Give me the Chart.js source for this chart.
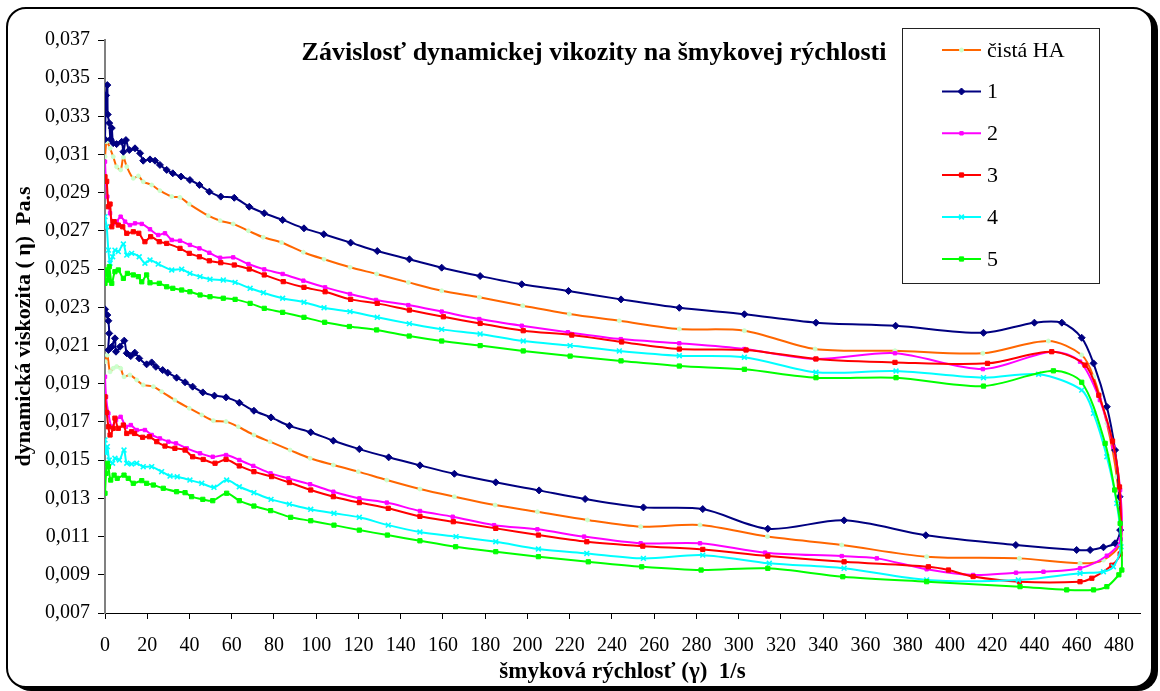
<!DOCTYPE html>
<html>
<head>
<meta charset="utf-8">
<script src="https://cdn.jsdelivr.net/npm/chart.js@4"></script>
<style>
  html, body { margin: 0; padding: 0; background: #fff; }
  #wrap { position: relative; width: 1160px; height: 691px; overflow: hidden; }
  #frame {
    position: absolute; left: 6px; top: 7px; width: 1147px; height: 681px;
    box-sizing: border-box; border: 2px solid #000; border-radius: 20px;
    box-shadow: 5px 3px 0 #000; background: #fff;
  }
  #c { position: absolute; left: 0; top: 0; }
</style>
</head>
<body>
<div id="wrap">
  <div id="frame"></div>
  <canvas id="c" width="1160" height="691"></canvas>
</div>
<script>
// Shear rate (1/s) and dynamic viscosity (Pa.s); each loop runs up to ~480 1/s and back to 0.
const haShear = [0, 0.8, 2.4, 3.9, 5.5, 7.4, 8.7, 10.3, 13.4, 15.8, 18.1, 22.1, 26, 31.6, 35.5, 39.9, 48.9, 54.5, 60.7, 67.9, 74.9, 83.6, 93.9, 103.7, 116, 128.6, 143.6, 159.4, 177.2, 197.8, 219.8, 243.5, 271.9, 302.7, 336.2, 374, 415.6, 446.6, 462.4,
  468, 474.3, 479, 480.9,
  472.7, 461.6, 432.9, 389, 348.8, 313.6, 281.7, 253.6, 228.4, 204.7, 184.7, 165.4, 149.1, 133.4, 119.9, 108.1, 97.1, 87.6, 78.1, 70.5, 63.1, 57.3, 51.3, 45.8, 39.9, 33.1, 26.8, 22.9, 18.1, 15, 11.8, 9, 7.4, 5.5, 3.9, 2.4, 1.1, 0];
const haEta = [0.03089, 0.03168, 0.03133, 0.03089, 0.03037, 0.0302, 0.03086, 0.03037, 0.02976, 0.02988, 0.02958, 0.02941, 0.02911, 0.0288, 0.02876, 0.02841, 0.0278, 0.02754, 0.02737, 0.02701, 0.02667, 0.0264, 0.02589, 0.02552, 0.0251, 0.02475, 0.02431, 0.02387, 0.02353, 0.02309, 0.02265, 0.0223, 0.02187, 0.02178, 0.02082, 0.02073, 0.0206, 0.02124, 0.02051,
  0.01937, 0.01693, 0.01413, 0.01073,
  0.00977, 0.0096, 0.00986, 0.00995, 0.01056, 0.011, 0.01161, 0.01152, 0.01187, 0.0123, 0.01265, 0.01309, 0.01349, 0.01396, 0.0144, 0.01475, 0.0151, 0.01553, 0.01597, 0.01632, 0.01675, 0.01702, 0.01707, 0.01737, 0.01772, 0.01815, 0.01859, 0.01885, 0.01894, 0.0192, 0.01946, 0.01937, 0.01981, 0.0199, 0.01981, 0.01963, 0.0205, 0.02016];

const s1Shear = [0, 0.5, 1.1, 1.3, 2.0, 2.6, 3.2, 3.9, 5.5, 7.9, 8.7, 9.9, 11.5, 14.2, 16.6, 18.1, 21.3, 23.7, 26, 29.2, 32.1, 36, 40.2, 44.7, 49.4, 54.8, 61.2, 68.3, 75.4, 84.1, 94.2, 103.6, 116.3, 128.9, 144.1, 159.4, 177.6, 197.3, 219.4, 244.3, 271.9, 302.7, 336.6, 374.3, 415.9, 440, 453, 462.4,
  468, 474.3, 478.2, 480.3, 480.6,
  478.2, 472.7, 466.4, 460, 431.2, 388.6, 349.9, 313.8, 283, 254.9, 227.3, 205.5, 185, 165.4, 149.1, 134.3, 120.4, 108.1, 97.4, 87.3, 78.6, 70.5, 63.6, 57.3, 51.8, 46.3, 41.5, 37.9, 33.9, 29.7, 27.3, 24.1, 22.1, 19.7, 16.2, 14.1, 12.2, 10.3, 9.1, 7.1, 5.2, 4.7, 3.2, 1.6, 2.0, 1.6, 1.1, 0];
const s1Eta = [0.0318, 0.0341, 0.03464, 0.0331, 0.03265, 0.0318, 0.03239, 0.0316, 0.03155, 0.03167, 0.03115, 0.03176, 0.03124, 0.03133, 0.03107, 0.03068, 0.03075, 0.03068, 0.03046, 0.0302, 0.03002, 0.02985, 0.02967, 0.02941, 0.02906, 0.0288, 0.02874, 0.02827, 0.02793, 0.02758, 0.02714, 0.02683, 0.02639, 0.02595, 0.02552, 0.02508, 0.02464, 0.02421, 0.02386, 0.02342, 0.02298, 0.02264, 0.0222, 0.02204, 0.02167, 0.0222, 0.0222, 0.02141,
  0.02007, 0.0178, 0.01553, 0.01309, 0.01134,
  0.01065, 0.01044, 0.0103, 0.0103, 0.01056, 0.01107, 0.01185, 0.01141, 0.01244, 0.01253, 0.01297, 0.01342, 0.01384, 0.01429, 0.01473, 0.01515, 0.01558, 0.01602, 0.01646, 0.0168, 0.01724, 0.01759, 0.01801, 0.01829, 0.01838, 0.01855, 0.01885, 0.01908, 0.01932, 0.01958, 0.01972, 0.01989, 0.02012, 0.02002, 0.02033, 0.02063, 0.02045, 0.0206, 0.02126, 0.02094, 0.02068, 0.02138, 0.02094, 0.02077, 0.02164, 0.0223, 0.0226, 0.0229];

const s2Shear = [0, 0.5, 1.1, 2.4, 3.9, 5.5, 7.4, 9.5, 11.8, 14.2, 17.4, 21.3, 25.2, 28.4, 31.6, 35.5, 40.2, 44.7, 49.4, 54.5, 60.7, 67.9, 75.4, 84.1, 93.9, 104.2, 116, 128.3, 143.6, 159.4, 177.2, 197.3, 219.1, 244.2, 271.9, 302.7, 336.2, 374, 415.6, 448.2, 461.6,
  471, 477.4, 480.6, 480.9,
  474.3, 461.6, 444.3, 431.3, 411, 389, 365.4, 348.8, 312.5, 281.7, 253.6, 226.8, 204.7, 184.2, 164.6, 149.1, 133.4, 120.4, 108.1, 97.1, 86.8, 78.4, 70.2, 63.6, 57.3, 51, 45, 38.7, 33.6, 30, 26, 22.1, 18.9, 15, 12.2, 9.9, 7.4, 5.2, 3.2, 1.6, 0.5, 0];
const s2Eta = [0.03063, 0.0295, 0.0288, 0.02793, 0.0274, 0.02749, 0.02775, 0.02749, 0.02731, 0.0274, 0.02737, 0.02709, 0.02679, 0.02688, 0.02653, 0.02649, 0.02627, 0.02609, 0.02586, 0.0256, 0.02562, 0.02527, 0.02499, 0.02475, 0.0244, 0.02405, 0.0237, 0.02339, 0.02312, 0.02278, 0.02239, 0.02204, 0.0217, 0.02134, 0.02112, 0.02082, 0.0203, 0.0206, 0.01977, 0.02068, 0.02016,
  0.01815, 0.0157, 0.01344, 0.01086,
  0.0100, 0.00934, 0.00916, 0.00911, 0.00899, 0.00929, 0.00986, 0.00998, 0.01016, 0.01065, 0.01065, 0.011, 0.01138, 0.0116, 0.01204, 0.01234, 0.01278, 0.013, 0.01335, 0.01374, 0.01405, 0.01431, 0.0147, 0.01501, 0.01527, 0.01518, 0.01536, 0.01562, 0.01588, 0.01597, 0.01614, 0.01632, 0.01658, 0.01658, 0.01684, 0.01675, 0.01727, 0.0171, 0.01675, 0.01745, 0.01832, 0.01937];

const s3Shear = [0, 0.8, 1.6, 2.4, 3.2, 4.3, 6.3, 8.4, 10.3, 13.4, 16, 18.9, 21.6, 25.7, 29.2, 35.5, 39.9, 44.7, 49.4, 54.8, 61.2, 68.3, 75.4, 84.4, 94.2, 104.2, 116.3, 128.9, 144.1, 160.2, 177.6, 198, 221, 244.6, 271.9, 303.5, 336.6, 374, 417.8, 448.2, 464,
  470.5, 477, 480.3, 480.6,
  476.7, 467.2, 461.6, 432.9, 411, 399.3, 389.8, 349.9, 313.8, 283, 254.6, 228.1, 205.2, 185, 164.9, 149.1, 134.1, 120.4, 108.1, 97.4, 87.3, 78.9, 70.5, 63.6, 57.3, 52.1, 46.5, 41.5, 37.9, 33.1, 28.4, 24.5, 21, 17.8, 14, 12.6, 10.3, 8.7, 6.3, 4.7, 3.9, 2.4, 1.6, 0.8, 0];
const s3Eta = [0.02984, 0.0296, 0.02827, 0.02841, 0.02722, 0.02749, 0.02731, 0.02722, 0.02688, 0.02696, 0.02688, 0.02644, 0.0267, 0.02644, 0.02635, 0.02609, 0.02583, 0.02565, 0.02544, 0.02534, 0.02522, 0.02501, 0.0247, 0.02435, 0.02405, 0.02382, 0.02342, 0.02321, 0.02286, 0.02251, 0.02216, 0.02178, 0.02155, 0.02119, 0.02082, 0.02077, 0.0203, 0.02012, 0.02007, 0.02068, 0.01998,
  0.0184, 0.016, 0.0136, 0.01009,
  0.0095, 0.00882, 0.00864, 0.00864, 0.00891, 0.00925, 0.00942, 0.00968, 0.00998, 0.01033, 0.0105, 0.01073, 0.01108, 0.01143, 0.01178, 0.01206, 0.01248, 0.01278, 0.01309, 0.01344, 0.01383, 0.01414, 0.0144, 0.0147, 0.01504, 0.01484, 0.01504, 0.01518, 0.01553, 0.01562, 0.01574, 0.01597, 0.01623, 0.0162, 0.0164, 0.01649, 0.0164, 0.01684, 0.01667, 0.0172, 0.01667, 0.01632, 0.01675, 0.0175, 0.01832];

const s4Shear = [0, 0.8, 1.6, 2.4, 3.6, 4.7, 6.3, 8.7, 10.3, 12.6, 16.2, 18.9, 21.3, 25.2, 31.6, 36.3, 40.2, 45, 49.7, 56, 61.6, 68.7, 75, 84.1, 94.2, 103.7, 116, 128.9, 144.1, 159.4, 177.6, 198, 220.2, 243.5, 271.9, 302.7, 336.6, 374.5, 415.9, 442, 462.4,
  468, 474.3, 479, 481,
  477.4, 472.7, 461.6, 432.4, 389, 349.9, 314.5, 283, 254.9, 228.1, 205.2, 185, 166.2, 149.1, 134.1, 120.4, 108.4, 97.4, 87.3, 78.6, 70.5, 63.6, 57.6, 51.6, 45.8, 40.2, 34.2, 30.8, 26.8, 22.1, 18.1, 15, 12.6, 10.3, 9, 6.8, 4.7, 3.6, 2, 1.1, 0.5, 0];
const s4Eta = [0.02775, 0.02722, 0.026, 0.02531, 0.02565, 0.026, 0.02592, 0.02632, 0.02574, 0.02583, 0.02565, 0.02531, 0.02548, 0.02527, 0.02496, 0.025, 0.02478, 0.02461, 0.02447, 0.02443, 0.02431, 0.024, 0.02377, 0.02348, 0.02327, 0.02298, 0.02278, 0.02248, 0.02215, 0.02185, 0.02161, 0.02124, 0.021, 0.02072, 0.02047, 0.02039, 0.0196, 0.01967, 0.01932, 0.0195, 0.01867,
  0.01745, 0.01518, 0.01274, 0.01047,
  0.00942, 0.00916, 0.00908, 0.00873, 0.00873, 0.00934, 0.0096, 0.01003, 0.00986, 0.01012, 0.01035, 0.01073, 0.011, 0.01124, 0.0116, 0.01201, 0.01222, 0.01243, 0.0127, 0.01295, 0.0133, 0.01361, 0.01396, 0.01358, 0.01379, 0.01396, 0.01413, 0.01417, 0.0144, 0.01466, 0.01466, 0.01484, 0.0148, 0.01484, 0.01553, 0.01501, 0.0151, 0.01484, 0.01501, 0.01571, 0.01536, 0.01606];

const s5Shear = [0, 0.8, 1.6, 2, 3.2, 4.7, 6.3, 8.7, 10.6, 13.4, 15.8, 17.4, 19.7, 21.3, 25.7, 29.2, 32.1, 36.3, 40.2, 45, 49.7, 56, 61.6, 68.7, 75.4, 84.1, 94.2, 104, 115.7, 128.6, 144, 159.4, 177.6, 198, 220.2, 244.3, 271.9, 302.7, 336.6, 374.5, 415.9, 449, 462.4,
  473.5, 478, 480.6, 481.4,
  480, 474.3, 468, 455.3, 433.2, 389, 349.3, 313.8, 282.2, 254.1, 228.8, 205.2, 185, 166, 149.1, 133.7, 120.4, 108.4, 97.4, 87.9, 78.4, 70.5, 63.6, 57.6, 51, 46.3, 41, 37.9, 33.9, 27.6, 22.9, 19.7, 17.4, 13.4, 11, 9, 5.8, 4.3, 2.7, 1.6, 1.1, 0.5, 0];
const s5Eta = [0.02426, 0.02496, 0.02443, 0.02513, 0.02426, 0.02487, 0.02496, 0.02452, 0.02478, 0.0247, 0.02461, 0.02434, 0.0247, 0.02429, 0.02426, 0.02408, 0.024, 0.02391, 0.02382, 0.02365, 0.02356, 0.02348, 0.02342, 0.02321, 0.02295, 0.02274, 0.02248, 0.02222, 0.022, 0.02182, 0.0215, 0.02124, 0.021, 0.02072, 0.02045, 0.0202, 0.01993, 0.01976, 0.01932, 0.01932, 0.01888, 0.01968, 0.01908,
  0.01588, 0.01344, 0.01169, 0.00925,
  0.009, 0.00838, 0.00821, 0.00821, 0.00838, 0.00864, 0.0089, 0.00934, 0.00925, 0.00942, 0.00968, 0.00995, 0.01021, 0.01047, 0.01078, 0.01108, 0.01134, 0.0116, 0.01183, 0.01201, 0.01236, 0.0126, 0.01288, 0.01327, 0.01288, 0.01295, 0.01309, 0.0133, 0.01335, 0.01353, 0.0137, 0.01379, 0.01393, 0.01379, 0.01405, 0.01422, 0.01405, 0.01422, 0.01396, 0.01466, 0.01484, 0.01431, 0.01327];

const seriesNames = ['čistá HA', '1', '2', '3', '4', '5'];
const xTickValues = [0, 20, 40, 60, 80, 100, 120, 140, 160, 180, 200, 220, 240, 260, 280, 300, 320, 340, 360, 380, 400, 420, 440, 460, 480];

const FONT = "'Liberation Serif', 'Times New Roman', serif";

const toPoints = (xs, ys) => xs.map((x, i) => ({ x: x, y: ys[i] }));

const styles = [
  { line: '#FF6600', fill: '#CCFFCC', stroke: '#CCFFCC', shape: 'circle', r: 2, bw: 1 },
  { line: '#000080', fill: '#000080', stroke: '#000080', shape: 'rectRot', r: 3.5, bw: 1 },
  { line: '#FF00FF', fill: '#FF00FF', stroke: '#FF00FF', shape: 'rect', r: 2.4, bw: 1 },
  { line: '#FF0000', fill: '#FF0000', stroke: '#FF0000', shape: 'rect', r: 3, bw: 1 },
  { line: '#00FFFF', fill: '#00FFFF', stroke: '#00FFFF', shape: 'crossRot', r: 3.4, bw: 1.6 },
  { line: '#00FF00', fill: '#00FF00', stroke: '#00FF00', shape: 'rect', r: 3, bw: 1 }
];

const seriesData = [
  toPoints(haShear, haEta),
  toPoints(s1Shear, s1Eta),
  toPoints(s2Shear, s2Eta),
  toPoints(s3Shear, s3Eta),
  toPoints(s4Shear, s4Eta),
  toPoints(s5Shear, s5Eta)
];

const datasets = seriesNames.map((name, i) => ({
  label: name,
  data: seriesData[i],
  showLine: true,
  borderColor: styles[i].line,
  borderWidth: 2,
  tension: 0.3,
  pointStyle: styles[i].shape,
  pointRadius: styles[i].r,
  pointBackgroundColor: styles[i].fill,
  pointBorderColor: styles[i].stroke,
  pointBorderWidth: styles[i].bw,
  order: seriesNames.length - i
}));

// Title and boxed legend drawn on top of the plot
const overlay = {
  id: 'overlay',
  afterDraw(chart) {
    const ctx = chart.ctx;
    ctx.save();
    ctx.fillStyle = '#000';
    ctx.font = 'bold 26px ' + FONT;
    ctx.textAlign = 'center';
    ctx.textBaseline = 'middle';
    ctx.fillText('Závislosť dynamickej vikozity na šmykovej rýchlosti', 594, 53);

    // legend box
    const bx = 902.5, by = 28.5, bw = 197, bh = 255;
    ctx.fillStyle = '#fff';
    ctx.fillRect(bx, by, bw, bh);
    ctx.strokeStyle = '#222';
    ctx.lineWidth = 1;
    ctx.strokeRect(bx, by, bw, bh);
    const rows = [50, 91.5, 133.3, 175, 217, 259];
    seriesNames.forEach((name, i) => {
      const y = rows[i];
      const s = styles[i];
      ctx.strokeStyle = s.line;
      ctx.lineWidth = 2;
      ctx.beginPath();
      ctx.moveTo(942, y);
      ctx.lineTo(981, y);
      ctx.stroke();
      ctx.fillStyle = s.fill;
      ctx.strokeStyle = s.stroke;
      ctx.lineWidth = s.bw;
      Chart.helpers.drawPoint(ctx, { pointStyle: s.shape, radius: s.r, rotation: 0, borderWidth: s.bw }, 961.5, y);
      ctx.fillStyle = '#000';
      ctx.font = '22px ' + FONT;
      ctx.textAlign = 'left';
      ctx.textBaseline = 'middle';
      ctx.fillText(name, 987, y + 1);
    });
    ctx.restore();
  }
};

new Chart(document.getElementById('c'), {
  type: 'scatter',
  data: { datasets: datasets },
  options: {
    responsive: false,
    animation: false,
    layout: { padding: { left: 0, top: 40, right: 20, bottom: 0 } },
    plugins: { legend: { display: false }, title: { display: false }, tooltip: { enabled: false } },
    scales: {
      x: {
        type: 'linear',
        min: 0,
        max: 490,
        afterBuildTicks: (scale) => { scale.ticks = xTickValues.map(v => ({ value: v })); },
        afterFit: (scale) => { scale.height = 78; },
        ticks: {
          color: '#000',
          font: { family: FONT, size: 20 },
          padding: 15,
          maxRotation: 0,
          autoSkip: false
        },
        grid: { drawOnChartArea: false, drawTicks: true, tickLength: 6, color: '#000', lineWidth: 1 },
        border: { display: true, color: '#000', width: 1 },
        title: {
          display: true,
          text: 'šmyková rýchlosť (γ)  1/s',
          color: '#000',
          font: { family: FONT, size: 23, weight: 'bold' },
          padding: { top: 0, bottom: 5 }
        }
      },
      y: {
        type: 'linear',
        min: 0.007,
        max: 0.037,
        afterFit: (scale) => { scale.width = 105; },
        ticks: {
          stepSize: 0.002,
          color: '#000',
          font: { family: FONT, size: 20 },
          padding: 8,
          callback: (v) => v.toFixed(3).replace('.', ',')
        },
        grid: { drawOnChartArea: false, drawTicks: true, tickLength: 7, color: '#000', lineWidth: 1 },
        border: { display: true, color: '#808080', width: 2 },
        title: {
          display: true,
          text: 'dynamická viskozita ( η)  Pa.s',
          color: '#000',
          font: { family: FONT, size: 22, weight: 'bold' },
          padding: { top: 11, bottom: 0 }
        }
      }
    }
  },
  plugins: [overlay]
});
</script>
</body>
</html>
